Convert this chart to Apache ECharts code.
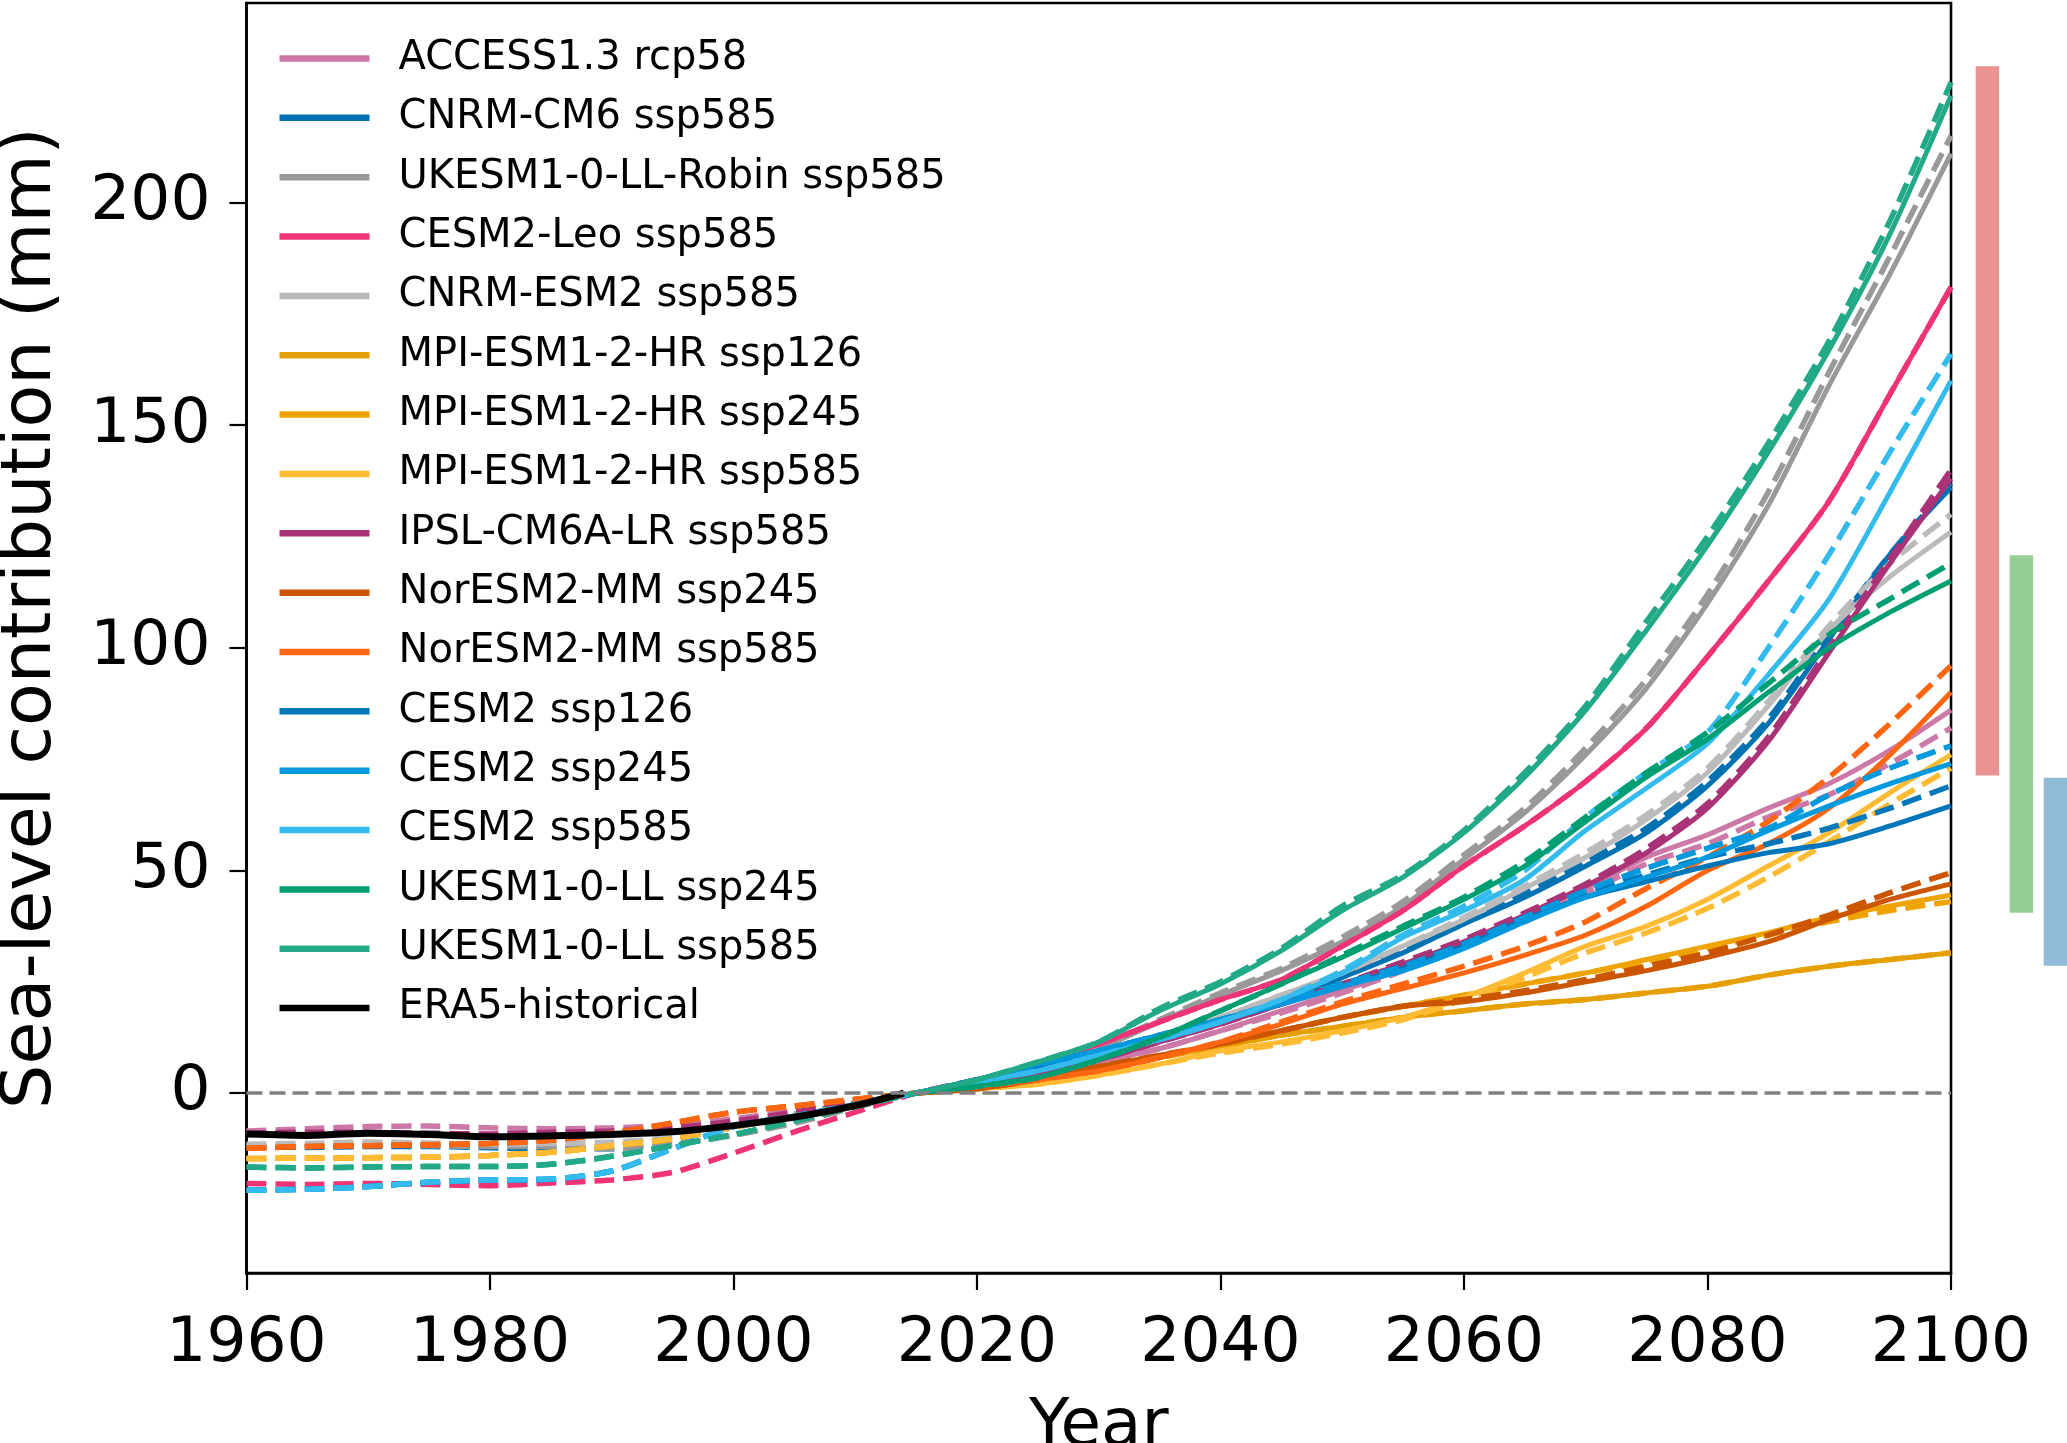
<!DOCTYPE html>
<html>
<head>
<meta charset="utf-8">
<script src="https://cdn.jsdelivr.net/npm/echarts@6/dist/echarts.min.js"></script>
<style>html,body{margin:0;padding:0;background:#fff}#chart{width:2067px;height:1443px}</style>
</head>
<body>
<div id="chart"></div>
<script>
// ---------------- DATA ----------------
const histYears = [1960,1965,1970,1975,1980,1985,1990,1995,2000,2005,2010,2015];
const futYears  = [2015,2020,2025,2030,2035,2040,2045,2050,2055,2060,2065,2070,2075,2080,2085,2090,2095,2100];
const eraYears  = [1960,1965,1970,1975,1980,1985,1990,1995,2000,2005,2010,2014];
const yTicks = [0,50,100,150,200];

const era5 = [-9.2,-9.5,-9.0,-9.3,-9.8,-9.6,-9.3,-8.7,-7.3,-5.4,-2.8,0];

// historical (dashed) per model
const histACCESS = [-8.5,-8.0,-7.5,-7.4,-7.8,-8.0,-7.8,-7.2,-5.8,-3.9,-1.9,0];
const histCNRMCM6 = [-12.0,-12.2,-12.0,-12.0,-12.3,-12.5,-12.5,-10.5,-7.5,-4.8,-2.3,0];
const histRobin = [-11.8,-12.0,-11.5,-11.8,-12.0,-12.0,-12.5,-11.5,-9.5,-6.8,-3.2,0];
const histLeo = [-20.3,-20.5,-20.3,-20.5,-20.8,-20.2,-19.5,-17.8,-13.5,-8.7,-4.3,0];
const histCNRMESM2 = [-11.5,-11.3,-11.0,-11.2,-11.5,-11.3,-11.0,-10.0,-7.8,-5.0,-2.5,0];
const histMPI = [-14.7,-14.6,-14.5,-14.4,-14.0,-13.3,-11.8,-10.3,-7.6,-5.0,-2.5,0];
const histIPSL = [-9.0,-8.8,-8.8,-9.0,-9.2,-8.8,-8.5,-7.8,-6.3,-4.3,-2.1,0];
const histNorESM = [-12.4,-12.0,-11.8,-11.6,-11.3,-10.6,-9.0,-6.7,-4.3,-2.9,-1.4,0];
const histCESM2 = [-21.8,-21.6,-21.0,-20.0,-19.5,-19.3,-17.5,-12.5,-7.5,-5.2,-2.6,0];
const histUKESM = [-16.6,-16.8,-16.6,-16.5,-16.5,-16.0,-14.2,-11.8,-9.3,-6.3,-3.0,0];

// future projections: solid and dashed per scenario
const accessSolid = [0,2,4,7,10,14,18.5,23,28,34,39.5,46,53,58,64,69.5,77,86];
const accessDashed = [0,2,4,7,10,14,18,22.5,27.5,33,38.5,45,51.5,56,62,67,74,82];
const cnrmcm6Solid = [0,2.5,5,8,12,16,21,26,31.5,38,44,51,58.5,69,83,102,121,136];
const cnrmcm6Dashed = [0,2.5,5,8,12,16,21,26,32,38.5,45,52,59.5,70,84,103,121,137];
const robinSolid = [0,2.5,6,10,16,22,27.5,34,42,52.5,63,76,91,110,132,159,184,211];
const robinDashed = [0,2.5,6,10.5,16.5,22.5,28,35,43,53.5,64,77.5,93,112,135,162,188,215];
const leoSolid = [0,3,6.5,11,16,21,25.5,33,41,51,60,70,82,98,115,133,157,181];
const leoDashed = [0,3,6.5,11,16,21,25.5,33,41,51,60,70,82,98,115,133,157,181];
const cnrmesm2Solid = [0,2.5,5,8.5,12.5,17,22,27,33,39,46,53,61.5,72,87,104,116,126];
const cnrmesm2Dashed = [0,2.5,5,8.5,12.5,17,22,27,33,39.5,46.5,54,62.5,73,88,105,119,130];
const mpi126Solid = [0,1,2.5,5,8,10.5,13,15,17,18.5,20,21,22.5,24,26.5,28.5,30,31.5];
const mpi126Dashed = [0,1,2.5,5,8,10.5,13,15,17,18.5,20,21,22.5,24,26.5,28.5,30,31.5];
const mpi245Solid = [0,1,2.5,5,8,11,14,17,19.5,22,24.5,27,30,33,36,39.5,42,44.5];
const mpi245Dashed = [0,1,2.5,5,8,11,14,17,19.5,22,24.5,27,29.5,32.5,35.5,38.5,41,43];
const mpi585Solid = [0,1,2,4,6.5,9.5,11.5,14,17,21.5,27,33,37.5,43.5,51,58.5,67.5,76];
const mpi585Dashed = [0,1,2,4,6.5,9,11,13.5,16.5,21,26,31.5,36,41.5,48.5,56.5,65,73];
const ipslSolid = [0,2,4.5,7.5,11.5,15.5,20,24.5,29,34,40,46.5,54,64,79,99,119,138];
const ipslDashed = [0,2,4.5,7.5,11.5,15.5,20,24.5,29.5,34.5,40.5,47,55,65,80,100,120,140];
const nor245Solid = [0,1,3,6,8.5,11,14,17,19.5,20.5,22.5,25,27.5,30.5,34,39,43.5,47];
const nor245Dashed = [0,1,3,6,8.5,11,14,17,19.5,21,23,25.5,28.5,31.5,35.5,40,45,49.5];
const nor585Solid = [0,1.5,3,5,8,11.5,15.5,20,23.5,27,31,35.5,42,50,56,64,76,90];
const nor585Dashed = [0,1.5,3,5,8,11.5,16,20.5,24.5,28.5,33,38.5,46,53,61,71,83,96];
const cesm126Solid = [0,3,6,9.5,13,16.5,20,24,28,33,39,44,47.5,51,54,56,60,64.5];
const cesm126Dashed = [0,3,6,9.5,13,16.5,20.5,24.5,28.5,33.5,39.5,45,49,53,56,59.5,64,69];
const cesm245Solid = [0,3,6.5,9.5,13,16.5,20,24,27.5,32.5,38.5,44,48.5,53,59,64.5,69.5,74];
const cesm245Dashed = [0,3,6.5,9.5,13,16.5,20.5,24.5,28.5,33.5,39.5,45.5,50.5,55,59.5,67,73,78];
const cesm585Solid = [0,2.5,5,8.5,12,16,21,27,35,41,48,59,68.5,78.5,94,111,135,160];
const cesm585Dashed = [0,2.5,5,8.5,12,16,21,27.5,35.5,42,50,62,72,81,100,121,144,166];
const uk245Solid = [0,1.5,3.5,7.5,12.5,18.5,24.5,30.5,37,43.5,51,61,71,79.5,90,100,108,115];
const uk245Dashed = [0,1.5,3.5,7.5,12.5,18.5,24.5,31,37.5,44,52,62,72,81,92,103,111,119];
const uk585Solid = [0,3,7,11.5,18.5,24.5,32,41,48.5,58.5,71,86,104,123,144,167,193,224];
const uk585Dashed = [0,3,7,11.5,19,25,32.5,42,49,59,72,87,106,125,146,169,196,227];

// likely ranges shown as bars at the right (low, high)
const rangeNames = ['high','medium','low'];
const rangeLow  = [71.3, 40.5, 28.6];
const rangeHigh = [230.6, 120.8, 70.8];

// ---------------- STYLE / MAPPING ----------------
const scenarios = [
  {name:'ACCESS1.3 rcp58',            color:'#CC79A7', hist:histACCESS,   solid:accessSolid,   dashed:accessDashed},
  {name:'CNRM-CM6 ssp585',            color:'#0072B2', hist:histCNRMCM6,  solid:cnrmcm6Solid,  dashed:cnrmcm6Dashed},
  {name:'UKESM1-0-LL-Robin ssp585',   color:'#999999', hist:histRobin,    solid:robinSolid,    dashed:robinDashed},
  {name:'CESM2-Leo ssp585',           color:'#EE3377', hist:histLeo,      solid:leoSolid,      dashed:leoDashed},
  {name:'CNRM-ESM2 ssp585',           color:'#BBBBBB', hist:histCNRMESM2, solid:cnrmesm2Solid, dashed:cnrmesm2Dashed},
  {name:'MPI-ESM1-2-HR ssp126',       color:'#E69F00', hist:histMPI,      solid:mpi126Solid,   dashed:mpi126Dashed},
  {name:'MPI-ESM1-2-HR ssp245',       color:'#EEA300', hist:histMPI,      solid:mpi245Solid,   dashed:mpi245Dashed},
  {name:'MPI-ESM1-2-HR ssp585',       color:'#FFBB33', hist:histMPI,      solid:mpi585Solid,   dashed:mpi585Dashed},
  {name:'IPSL-CM6A-LR ssp585',        color:'#AA3377', hist:histIPSL,     solid:ipslSolid,     dashed:ipslDashed},
  {name:'NorESM2-MM ssp245',          color:'#CC5500', hist:histNorESM,   solid:nor245Solid,   dashed:nor245Dashed},
  {name:'NorESM2-MM ssp585',          color:'#FF6611', hist:histNorESM,   solid:nor585Solid,   dashed:nor585Dashed},
  {name:'CESM2 ssp126',               color:'#0077BB', hist:histCESM2,    solid:cesm126Solid,  dashed:cesm126Dashed},
  {name:'CESM2 ssp245',               color:'#0099DD', hist:histCESM2,    solid:cesm245Solid,  dashed:cesm245Dashed},
  {name:'CESM2 ssp585',               color:'#33BBEE', hist:histCESM2,    solid:cesm585Solid,  dashed:cesm585Dashed},
  {name:'UKESM1-0-LL ssp245',         color:'#009E73', hist:histUKESM,    solid:uk245Solid,    dashed:uk245Dashed},
  {name:'UKESM1-0-LL ssp585',         color:'#22AA88', hist:histUKESM,    solid:uk585Solid,    dashed:uk585Dashed}
];
const rangeColors = ['#EA9393','#96CF96','#8FBBD9'];

function pairs(xs, ys){ return xs.map((x,i)=>[x, ys[i]]); }

const FONT = 'DejaVu Sans';
const series = [];

// zero reference line (below all curves)
series.push({
  type:'line', name:'zero', data:[], xAxisIndex:0, yAxisIndex:0, z:1, silent:true,
  markLine:{silent:true, symbol:['none','none'], label:{show:false},
    lineStyle:{color:'#808080', type:[16,7], width:3.5}, data:[{yAxis:0}], animation:false}
});

scenarios.forEach((s)=>{
  series.push({
    type:'line', name:s.name, xAxisIndex:0, yAxisIndex:0,
    data:pairs(futYears, s.solid), showSymbol:false, symbol:'none', smooth:0.25,
    lineStyle:{color:s.color, width:5}, itemStyle:{color:s.color}, z:2
  });
  const dData = pairs(histYears.slice(0,-1), s.hist.slice(0,-1)).concat(pairs(futYears, s.dashed));
  series.push({
    type:'line', name:s.name, xAxisIndex:0, yAxisIndex:0,
    data:dData, showSymbol:false, symbol:'none', smooth:0.25,
    lineStyle:{color:s.color, width:5.5, type:[20,9]}, itemStyle:{color:s.color}, z:2
  });
});

series.push({
  type:'line', name:'ERA5-historical', xAxisIndex:0, yAxisIndex:0,
  data:pairs(eraYears, era5), showSymbol:false, symbol:'none', smooth:0.25,
  lineStyle:{color:'#000000', width:7}, itemStyle:{color:'#000000'}, z:3
});

series.push({
  type:'custom', name:'ranges', xAxisIndex:1, yAxisIndex:1, silent:true,
  data: rangeNames.map((n,i)=>[n, rangeLow[i], rangeHigh[i], i]),
  encode:{x:0, y:[1,2]},
  renderItem:function(params, api){
    const lo = api.coord([api.value(0), api.value(1)]);
    const hi = api.coord([api.value(0), api.value(2)]);
    const w = api.size([1,0])[0]*0.69;
    return {type:'rect', shape:{x:lo[0]-w/2, y:hi[1], width:w, height:lo[1]-hi[1]},
      style:{fill:rangeColors[api.value(3)]}};
  }
});

const legendNames = scenarios.map(s=>s.name).concat(['ERA5-historical']);

const option = {
  animation:false,
  backgroundColor:'#ffffff',
  textStyle:{fontFamily:FONT},
  grid:[
    {left:246.5, top:3, width:1704.5, height:1270, show:true, borderColor:'#000', borderWidth:2.6,
     backgroundColor:'transparent', containLabel:false, outerBoundsMode:'none'},
    {left:1970.4, top:3, width:102, height:1270, show:false, containLabel:false, outerBoundsMode:'none'}
  ],
  legend:{
    data:legendNames, orient:'vertical', left:279.5, top:38.5, padding:0,
    icon:'rect', itemWidth:90, itemHeight:6.5, itemGap:19.35,
    itemStyle:{borderWidth:0},
    textStyle:{fontFamily:FONT, fontSize:40, color:'#000', lineHeight:40, padding:[0,0,0,24]},
    selectedMode:false
  },
  xAxis:[
    {type:'value', gridIndex:0, min:1960, max:2100, interval:20,
     name:'Year', nameLocation:'middle', nameGap:122,
     nameTextStyle:{fontFamily:FONT, fontSize:66, color:'#000'},
     axisLine:{show:true, onZero:false, lineStyle:{color:'#000', width:2.6}},
     axisTick:{show:true, inside:false, length:17, lineStyle:{color:'#000', width:2.2}},
     axisLabel:{show:true, margin:40, fontFamily:FONT, fontSize:63, color:'#000', formatter:(v)=>String(v)},
     splitLine:{show:false}},
    {type:'category', gridIndex:1, data:rangeNames, show:false, boundaryGap:true}
  ],
  yAxis:[
    {type:'value', gridIndex:0, min:-40.4, max:244.8,
     name:'Sea-level contribution (mm)', nameLocation:'middle', nameGap:180,
     nameTextStyle:{fontFamily:FONT, fontSize:70, color:'#000', padding:[0,0,0,40]},
     axisLine:{show:true, onZero:false, lineStyle:{color:'#000', width:2.6}},
     axisTick:{show:true, inside:false, length:17, lineStyle:{color:'#000', width:2.2}, customValues:yTicks},
     axisLabel:{show:true, margin:36, fontFamily:FONT, fontSize:63, color:'#000', customValues:yTicks},
     splitLine:{show:false}},
    {type:'value', gridIndex:1, min:-40.4, max:244.8, show:false, splitLine:{show:false}}
  ],
  series:series
};

const chart = echarts.init(document.getElementById('chart'), null, {renderer:'canvas'});
chart.setOption(option);
</script>
</body>
</html>
